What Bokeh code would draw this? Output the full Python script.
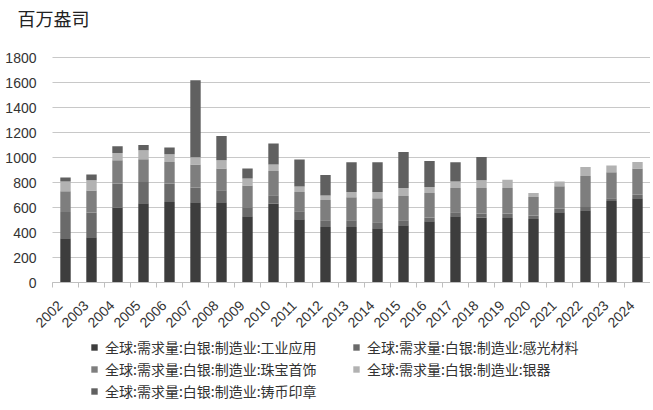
import math
from bokeh.plotting import figure
from bokeh.models import ColumnDataSource, FixedTicker, Legend, LegendItem, Range1d, Title
from bokeh.embed import file_html
from bokeh.resources import INLINE

years = [str(y) for y in range(2002, 2025)]
industrial = [354, 362, 600, 634, 645, 642, 642, 530, 632, 506, 445, 445, 434, 458, 490, 530, 520, 517, 509, 562, 578, 653, 674]
photo = [211, 198, 192, 171, 147, 118, 96, 72, 66, 64, 53, 53, 48, 40, 30, 32, 32, 35, 28, 28, 27, 22, 28]
jewelry = [165, 176, 186, 181, 173, 184, 174, 174, 195, 155, 163, 184, 192, 195, 197, 195, 205, 205, 148, 180, 248, 207, 210]
silverware = [78, 82, 59, 72, 61, 58, 66, 56, 51, 43, 35, 43, 51, 64, 48, 51, 61, 65, 32, 38, 72, 54, 53]
coins = [32, 46, 53, 43, 54, 616, 195, 80, 168, 216, 165, 237, 237, 288, 208, 154, 187, 0, 0, 0, 0, 0, 0]
y_ticks = [0, 200, 400, 600, 800, 1000, 1200, 1400, 1600, 1800]

names = ["全球:需求量:白银:制造业:工业应用", "全球:需求量:白银:制造业:感光材料",
         "全球:需求量:白银:制造业:珠宝首饰", "全球:需求量:白银:制造业:银器",
         "全球:需求量:白银:制造业:铸币印章"]
keys = ["industrial", "photo", "jewelry", "silverware", "coins"]
colors = ["#3d3d3d", "#6a6a6a", "#7e7e7e", "#b2b2b2", "#606060"]

# layout (pixels)
W, H = 650, 405
FRAME_TOP = 38                    # top of the drawing frame
TOP, LEFT = 57, 52                # top / left edge of the value band
PLOT_H = 225                      # height of the 0..1800 value band
n = len(years)
px_per_cat = (W - LEFT) / n
x_lo, x_hi = -0.5, n - 0.5
x_start = x_lo - LEFT / px_per_cat
y_max = y_ticks[-1]
units_per_px = y_max / PLOT_H
y_min = -(H - TOP - PLOT_H) * units_per_px
y_end = y_max + (TOP - FRAME_TOP) * units_per_px

xs = list(range(n))
src = ColumnDataSource(dict(x=xs, industrial=industrial, photo=photo, jewelry=jewelry,
                            silverware=silverware, coins=coins))

CJK = "Noto Sans CJK SC"
p = figure(width=W, height=H, output_backend="svg", toolbar_location=None,
           x_range=Range1d(x_start, x_hi), y_range=Range1d(y_min, y_end),
           min_border_left=0, min_border_right=0, min_border_top=FRAME_TOP, min_border_bottom=0)
p.outline_line_color = None
p.background_fill_color = "white"
p.grid.visible = False

# horizontal gridlines at the y ticks, across the category band
p.segment(x0=x_lo, x1=x_hi, y0=y_ticks, y1=y_ticks, line_color="#c8c8c8", line_width=1.2)

rs = p.vbar_stack(keys, x="x", width=0.4, color=colors, source=src, line_color=None)

# title (outermost) plus a thin spacer title between it and the plot area
p.title.text = "百万盎司"
p.title.text_font = CJK
p.title.text_font_size = "18px"
p.title.text_font_style = "normal"
p.title.text_color = "#222222"
p.title.align = "left"
p.title.offset = 17
p.title.standoff = 0
p.add_layout(Title(text=" ", text_font_size="1px", standoff=5), "above")

# y axis drawn at the left edge of the category band
p.yaxis.fixed_location = x_lo
p.yaxis.bounds = (y_ticks[0], y_ticks[-1])
p.yaxis.ticker = FixedTicker(ticks=y_ticks)
p.yaxis.axis_line_color = None
p.yaxis.major_tick_line_color = None
p.yaxis.minor_tick_line_color = None
p.yaxis.major_label_standoff = 10
p.yaxis.major_label_text_font = "Liberation Sans"
p.yaxis.major_label_text_font_size = "14px"
p.yaxis.major_label_text_color = "#333333"

# x axis drawn at value 0
p.xaxis.fixed_location = 0
p.xaxis.bounds = (x_lo, x_hi)
p.xaxis.ticker = FixedTicker(ticks=xs, minor_ticks=[i - 0.5 for i in range(n + 1)])
p.xaxis.major_label_overrides = {i: y + "\u00a0\u00a0" for i, y in zip(xs, years)}
p.xaxis.major_tick_in = 0
p.xaxis.major_tick_out = 0
p.xaxis.minor_tick_in = 0
p.xaxis.minor_tick_out = 5
p.xaxis.minor_tick_line_color = "#bfbfbf"
p.xaxis.axis_line_color = "#bfbfbf"
p.xaxis.axis_line_width = 1.2
p.xaxis.major_label_orientation = math.pi / 4
p.xaxis.major_label_standoff = 10
p.xaxis.major_label_text_font = "Liberation Sans"
p.xaxis.major_label_text_font_size = "14px"
p.xaxis.major_label_text_color = "#333333"

# legend (two columns, row-major), placed under the axis labels
lg = Legend(items=[LegendItem(label=names[i], renderers=[rs[i]]) for i in range(len(names))],
            location=(90, 4), orientation="horizontal", ncols=2)
lg.label_text_font = CJK
lg.label_text_font_size = "14px"
lg.label_text_color = "#333333"
lg.glyph_width = 8
lg.glyph_height = 8
lg.label_standoff = 7
lg.label_width = 245
lg.label_height = 18
lg.spacing = 2
lg.padding = 0
lg.margin = 0
lg.border_line_color = None
lg.background_fill_alpha = 0
p.add_layout(lg, "center")

open("out.html", "w").write(file_html(p, INLINE))
